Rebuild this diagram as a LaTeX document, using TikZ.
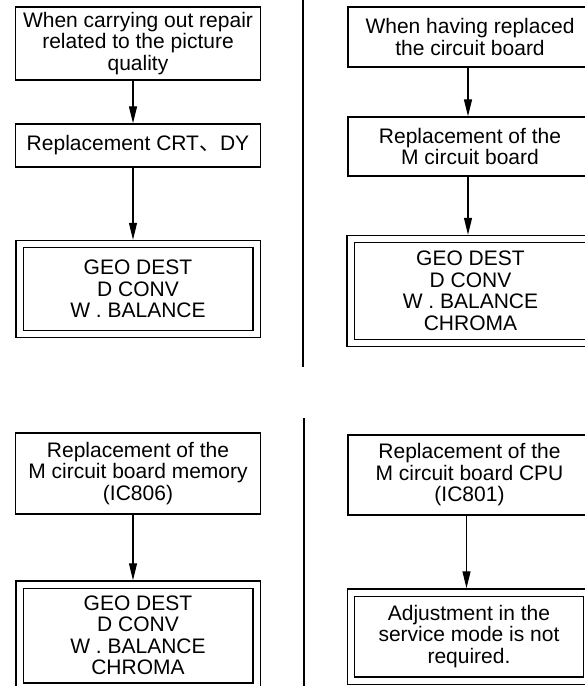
\documentclass[tikz,border=0pt]{standalone}
\usepackage{fontspec}
\setmainfont{Liberation Sans}
\newfontfamily\cjkfont{Noto Sans CJK JP}
\usetikzlibrary{arrows.meta}
\begin{document}
\begin{tikzpicture}[x=1pt,y=-1pt,
  box/.style={draw, line width=1.3pt, inner sep=0pt, align=center, font=\fontsize{21}{21.5}\selectfont},
  dbox/.style={box, double, double distance=6pt},
  arr/.style={line width=1.2pt, -{Triangle[width=8pt,length=17pt]}},
  divider/.style={line width=1.3pt}]
\useasboundingbox (0,0) rectangle (585,686);
\clip (0,0) rectangle (585,686);
% top left
\node[box, minimum width=245pt, minimum height=73pt] (a1) at (138,43.5) {When carrying out repair\\related to the picture\\quality};
\node[box, minimum width=245pt, minimum height=43pt] (a2) at (138,145.5) {Replacement CRT{\cjkfont 、}DY};
\node[dbox, minimum width=237pt, minimum height=90pt] (a3) at (138,289) {GEO DEST\\D CONV\\W . BALANCE};
% top right
\node[box, minimum width=244pt, minimum height=60pt] (b1) at (470,37) {When having replaced\\the circuit board};
\node[box, minimum width=244pt, minimum height=59pt] (b2) at (470,146.5) {Replacement of the\\M circuit board};
\node[dbox, minimum width=240pt, minimum height=104pt] (b3) at (470.5,291) {GEO DEST\\D CONV\\W . BALANCE\\CHROMA};
% bottom left
\node[box, minimum width=245pt, minimum height=81pt] (c1) at (138,473.5) {Replacement of the\\M circuit board memory\\(IC806)};
\node[dbox, minimum width=237pt, minimum height=102pt] (c3) at (138,635.5) {GEO DEST\\D CONV\\W . BALANCE\\CHROMA};
% bottom right
\node[box, minimum width=243pt, minimum height=80pt] (d1) at (469.5,475) {Replacement of the\\M circuit board CPU\\(IC801)};
\node[dbox, minimum width=236pt, minimum height=88pt] (d3) at (469,636.5) {Adjustment in the\\service mode is not\\required.};
% dividers
\coordinate (t1) at (303,0);
\coordinate (t2) at (303,367);
\coordinate (u1) at (304,418);
\coordinate (u2) at (304,686);
\draw[divider] (t1) -- (t2);
\draw[divider] (u1) -- (u2);
% arrows
\draw[arr] ([xshift=-5pt]a1.south) -- ([xshift=-5pt]a2.north);
\draw[arr] ([xshift=-5pt]a2.south) -- ([xshift=-5pt,yshift=3.6pt]a3.north);
\draw[arr] ([xshift=-2pt]b1.south) -- ([xshift=-2pt]b2.north);
\draw[arr] ([xshift=-2pt]b2.south) -- ([xshift=-2.5pt,yshift=3.6pt]b3.north);
\draw[arr] ([xshift=-5pt]c1.south) -- ([xshift=-5pt,yshift=3.6pt]c3.north);
\draw[arr] ([xshift=-3pt]d1.south) -- ([xshift=-2.5pt,yshift=3.6pt]d3.north);
\end{tikzpicture}
\end{document}
